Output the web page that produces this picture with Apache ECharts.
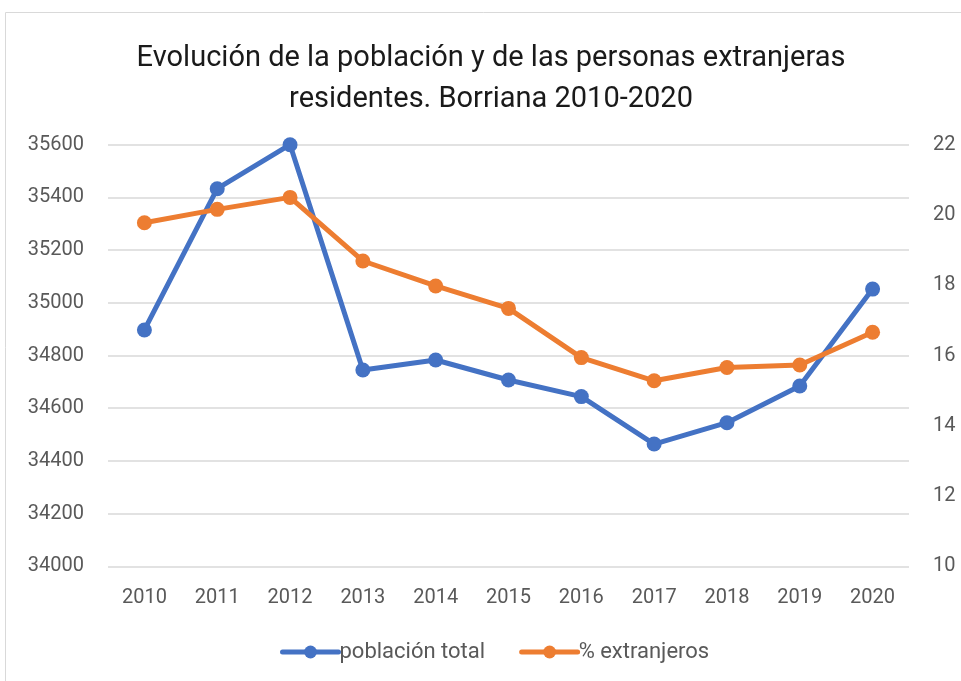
<!DOCTYPE html>
<html>
<head>
<meta charset="utf-8">
<script src="https://cdn.jsdelivr.net/npm/echarts@6/dist/echarts.min.js"></script>
<style>
  html, body { margin: 0; padding: 0; background: #fff; }
  #chart { width: 961px; height: 681px; }
</style>
</head>
<body>
<div id="chart"></div>
<script>
const years = ['2010', '2011', '2012', '2013', '2014', '2015', '2016', '2017', '2018', '2019', '2020']
const poblacionTotal = [34897, 35433, 35600, 34745, 34783, 34707, 34644, 34464, 34545, 34684, 35052]
const pctExtranjeros = [19.78, 20.16, 20.5, 18.69, 17.98, 17.34, 15.94, 15.28, 15.66, 15.73, 16.66]

const font = 'Roboto'
const labelColor = '#595959'

const myChart = echarts.init(document.getElementById('chart'))

const option = {
  animation: false,
  textStyle: { fontFamily: font },
  title: {
    text: 'Evolución de la población y de las personas extranjeras\nresidentes. Borriana 2010-2020',
    left: 486,
    textAlign: 'center',
    top: 33,
    textStyle: {
      fontFamily: font,
      fontSize: 29,
      fontWeight: 'normal',
      color: '#1a1a1a',
      lineHeight: 41,
    },
  },
  graphic: [
    {
      type: 'rect',
      shape: { x: 5.5, y: 12.5, width: 1000, height: 1000 },
      style: { fill: 'none', stroke: '#d9d9d9', lineWidth: 1 },
      silent: true,
    },
  ],
  legend: {
    bottom: 13,
    left: 275,
    itemWidth: 56,
    itemHeight: 16,
    itemGap: 34,
    lineStyle: { width: 5, cap: 'round' },
    textStyle: { fontFamily: font, fontSize: 22, color: labelColor, padding: [0, 0, 0, -4] },
    data: ['población total', '% extranjeros'],
  },
  grid: {
    left: 108,
    right: 52,
    top: 144.7,
    bottom: 114.7,
  },
  xAxis: {
    type: 'category',
    data: years,
    boundaryGap: true,
    axisLine: { show: false },
    axisTick: { show: false },
    axisLabel: { color: labelColor, fontSize: 20, fontFamily: font, margin: 22 },
  },
  yAxis: [
    {
      type: 'value',
      min: 34000,
      max: 35600,
      interval: 200,
      axisLine: { show: false },
      axisTick: { show: false },
      axisLabel: { color: labelColor, fontSize: 20, fontFamily: font, margin: 24, formatter: (v) => String(v) },
      splitLine: { lineStyle: { color: '#d9d9d9', width: 1.5 } },
    },
    {
      type: 'value',
      min: 10,
      max: 22,
      interval: 2,
      axisLine: { show: false },
      axisTick: { show: false },
      axisLabel: { color: labelColor, fontSize: 20, fontFamily: font, margin: 24 },
      splitLine: { show: false },
    },
  ],
  series: [
    {
      name: 'población total',
      type: 'line',
      yAxisIndex: 0,
      data: poblacionTotal,
      symbol: 'circle',
      symbolSize: 15,
      itemStyle: { color: '#4472C4' },
      lineStyle: { color: '#4472C4', width: 5 },
    },
    {
      name: '% extranjeros',
      type: 'line',
      yAxisIndex: 1,
      data: pctExtranjeros,
      symbol: 'circle',
      symbolSize: 15,
      itemStyle: { color: '#ED7D31' },
      lineStyle: { color: '#ED7D31', width: 5 },
    },
  ],
}

myChart.setOption(option)
</script>
</body>
</html>
